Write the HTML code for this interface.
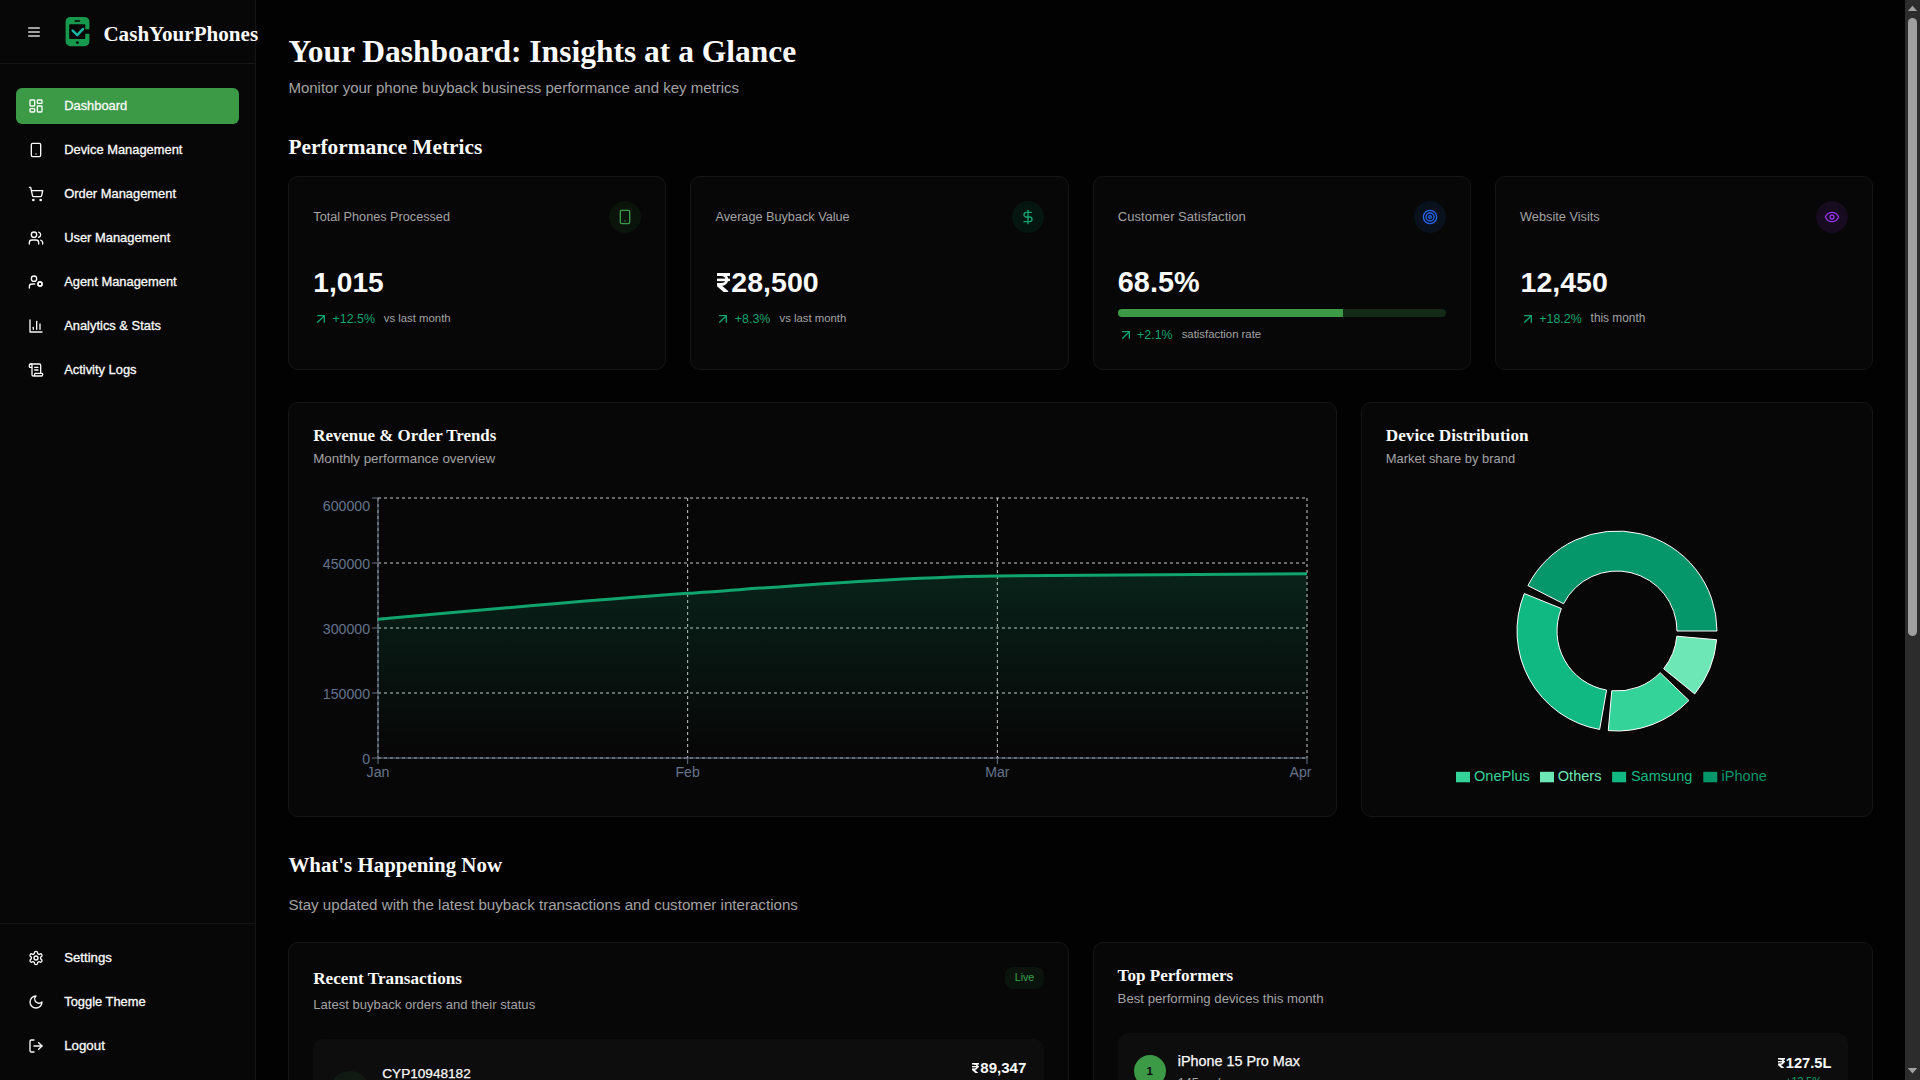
<!DOCTYPE html>
<html lang="en"><head><meta charset="utf-8"><title>CashYourPhones Dashboard</title>
<style>
html,body{margin:0;padding:0;}
body{width:1920px;height:1080px;overflow:hidden;background:#020202;position:relative;font-family:"Liberation Sans", sans-serif;}
.t{position:absolute;white-space:nowrap;line-height:1;}
.f-sans{font-family:"Liberation Sans", sans-serif;}
.f-serif{font-family:"Liberation Serif", serif;}
.b{position:absolute;box-sizing:border-box;}
.ic{position:absolute;display:block;}
.card{background:#070707;border:1px solid #151515;border-radius:10px;}
svg text{font-family:"Liberation Sans", sans-serif;}
</style></head><body>
<div class="b" style="left:0px;top:0px;width:256px;height:1080px;background:#070707;border-right:1px solid #151515;"></div>
<div class="b" style="left:0px;top:63px;width:255px;height:1px;background:#151515;"></div>
<div class="b" style="left:0px;top:923px;width:255px;height:1px;background:#151515;"></div>
<svg class="ic" style="left:26px;top:24px" width="16" height="16" viewBox="0 0 24 24" fill="none" stroke="#d4d4d4" stroke-width="2" stroke-linecap="round" stroke-linejoin="round"><line x1="4" x2="20" y1="12" y2="12"/><line x1="4" x2="20" y1="6" y2="6"/><line x1="4" x2="20" y1="18" y2="18"/></svg>
<svg class="ic" style="left:64px;top:16px" width="32" height="32" viewBox="64 16 32 32">
<path fill="#17994d" d="M70.5 16.9h14a4.9 4.9 0 0 1 4.9 4.9v7.4h-4.1v-4.1a.8.8 0 0 0-.8-.8h-14.5a.8.8 0 0 0-.8.8v13.2a.8.8 0 0 0 .8.8h14.5a.8.8 0 0 0 .8-.8v-4.5h4.1v7.6a4.9 4.9 0 0 1-4.9 4.9h-14a4.9 4.9 0 0 1-4.9-4.9v-19.6a4.9 4.9 0 0 1 4.9-4.9z"/>
<rect x="74.3" y="20.2" width="6.1" height="1.5" rx=".75" fill="#070707"/>
<circle cx="77.4" cy="42.6" r="1.4" fill="#070707"/>
<path d="M72.6 30.6l4.7 4.5 5.8-6.2" fill="none" stroke="#11b8a5" stroke-width="2.4" stroke-linecap="round" stroke-linejoin="round"/>
</svg>
<div class="t f-serif" style="left:103.4px;top:24px;font-size:21.1px;color:#fafafa;font-weight:bold;">CashYourPhones</div>
<div class="b" style="left:16px;top:88px;width:223px;height:36px;background:#3c9a47;border-radius:6px;"></div>
<svg class="ic" style="left:28px;top:98px" width="16" height="16" viewBox="0 0 24 24" fill="none" stroke="#fafafa" stroke-width="2" stroke-linecap="round" stroke-linejoin="round"><rect width="7" height="9" x="3" y="3" rx="1"/><rect width="7" height="5" x="14" y="3" rx="1"/><rect width="7" height="9" x="14" y="12" rx="1"/><rect width="7" height="5" x="3" y="16" rx="1"/></svg>
<div class="t f-sans" style="left:64.2px;top:100px;font-size:12.9px;color:#fafafa;-webkit-text-stroke:.3px #fafafa;">Dashboard</div>
<svg class="ic" style="left:28px;top:142px" width="16" height="16" viewBox="0 0 24 24" fill="none" stroke="#fafafa" stroke-width="2" stroke-linecap="round" stroke-linejoin="round"><rect width="14" height="20" x="5" y="2" rx="2" ry="2"/><path d="M12 18h.01"/></svg>
<div class="t f-sans" style="left:64.2px;top:144px;font-size:12.9px;color:#fafafa;-webkit-text-stroke:.3px #fafafa;">Device Management</div>
<svg class="ic" style="left:28px;top:186px" width="16" height="16" viewBox="0 0 24 24" fill="none" stroke="#fafafa" stroke-width="2" stroke-linecap="round" stroke-linejoin="round"><circle cx="8" cy="21" r="1"/><circle cx="19" cy="21" r="1"/><path d="M2.05 2.05h2l2.66 12.42a2 2 0 0 0 2 1.58h9.78a2 2 0 0 0 1.95-1.57l1.65-7.43H5.12"/></svg>
<div class="t f-sans" style="left:64.2px;top:188px;font-size:12.9px;color:#fafafa;-webkit-text-stroke:.3px #fafafa;">Order Management</div>
<svg class="ic" style="left:28px;top:230px" width="16" height="16" viewBox="0 0 24 24" fill="none" stroke="#fafafa" stroke-width="2" stroke-linecap="round" stroke-linejoin="round"><path d="M16 21v-2a4 4 0 0 0-4-4H6a4 4 0 0 0-4 4v2"/><circle cx="9" cy="7" r="4"/><path d="M22 21v-2a4 4 0 0 0-3-3.87"/><path d="M16 3.13a4 4 0 0 1 0 7.75"/></svg>
<div class="t f-sans" style="left:64.2px;top:232px;font-size:12.9px;color:#fafafa;-webkit-text-stroke:.3px #fafafa;">User Management</div>
<svg class="ic" style="left:28px;top:274px" width="16" height="16" viewBox="0 0 24 24" fill="none" stroke="#fafafa" stroke-width="2" stroke-linecap="round" stroke-linejoin="round"><circle cx="18" cy="15" r="3"/><circle cx="9" cy="7" r="4"/><path d="M10 15H6a4 4 0 0 0-4 4v2"/><path d="m21.7 16.4-.9-.3"/><path d="m15.2 13.9-.9-.3"/><path d="m16.6 18.7.3-.9"/><path d="m19.1 12.2.3-.9"/><path d="m19.6 18.7-.4-1"/><path d="m16.8 12.3-.4-1"/><path d="m14.3 16.6 1-.4"/><path d="m20.7 13.8 1-.4"/></svg>
<div class="t f-sans" style="left:64.2px;top:276px;font-size:12.9px;color:#fafafa;-webkit-text-stroke:.3px #fafafa;">Agent Management</div>
<svg class="ic" style="left:28px;top:318px" width="16" height="16" viewBox="0 0 24 24" fill="none" stroke="#fafafa" stroke-width="2" stroke-linecap="round" stroke-linejoin="round"><path d="M3 3v18h18"/><path d="M18 17V9"/><path d="M13 17V5"/><path d="M8 17v-3"/></svg>
<div class="t f-sans" style="left:64.2px;top:320px;font-size:12.9px;color:#fafafa;-webkit-text-stroke:.3px #fafafa;">Analytics &amp; Stats</div>
<svg class="ic" style="left:28px;top:362px" width="16" height="16" viewBox="0 0 24 24" fill="none" stroke="#fafafa" stroke-width="2" stroke-linecap="round" stroke-linejoin="round"><path d="M15 12h-5"/><path d="M15 8h-5"/><path d="M19 17V5a2 2 0 0 0-2-2H4"/><path d="M8 21h12a2 2 0 0 0 2-2v-1a1 1 0 0 0-1-1H11a1 1 0 0 0-1 1v1a2 2 0 1 1-4 0V5a2 2 0 1 0-4 0v2a1 1 0 0 0 1 1h3"/></svg>
<div class="t f-sans" style="left:64.2px;top:364px;font-size:12.9px;color:#fafafa;-webkit-text-stroke:.3px #fafafa;">Activity Logs</div>
<svg class="ic" style="left:28px;top:950px" width="16" height="16" viewBox="0 0 24 24" fill="none" stroke="#fafafa" stroke-width="2" stroke-linecap="round" stroke-linejoin="round"><path d="M12.22 2h-.44a2 2 0 0 0-2 2v.18a2 2 0 0 1-1 1.73l-.43.25a2 2 0 0 1-2 0l-.15-.08a2 2 0 0 0-2.73.73l-.22.38a2 2 0 0 0 .73 2.73l.15.1a2 2 0 0 1 1 1.72v.51a2 2 0 0 1-1 1.74l-.15.09a2 2 0 0 0-.73 2.73l.22.38a2 2 0 0 0 2.73.73l.15-.08a2 2 0 0 1 2 0l.43.25a2 2 0 0 1 1 1.73V20a2 2 0 0 0 2 2h.44a2 2 0 0 0 2-2v-.18a2 2 0 0 1 1-1.73l.43-.25a2 2 0 0 1 2 0l.15.08a2 2 0 0 0 2.73-.73l.22-.39a2 2 0 0 0-.73-2.73l-.15-.08a2 2 0 0 1-1-1.74v-.5a2 2 0 0 1 1-1.74l.15-.09a2 2 0 0 0 .73-2.73l-.22-.38a2 2 0 0 0-2.73-.73l-.15.08a2 2 0 0 1-2 0l-.43-.25a2 2 0 0 1-1-1.73V4a2 2 0 0 0-2-2z"/><circle cx="12" cy="12" r="3"/></svg>
<div class="t f-sans" style="left:64.2px;top:951px;font-size:13.2px;color:#fafafa;-webkit-text-stroke:.3px #fafafa;">Settings</div>
<svg class="ic" style="left:28px;top:994px" width="16" height="16" viewBox="0 0 24 24" fill="none" stroke="#fafafa" stroke-width="2" stroke-linecap="round" stroke-linejoin="round"><path d="M12 3a6 6 0 0 0 9 9 9 9 0 1 1-9-9Z"/></svg>
<div class="t f-sans" style="left:64.2px;top:996px;font-size:12.9px;color:#fafafa;-webkit-text-stroke:.3px #fafafa;">Toggle Theme</div>
<svg class="ic" style="left:28px;top:1038px" width="16" height="16" viewBox="0 0 24 24" fill="none" stroke="#fafafa" stroke-width="2" stroke-linecap="round" stroke-linejoin="round"><path d="M9 21H5a2 2 0 0 1-2-2V5a2 2 0 0 1 2-2h4"/><polyline points="16 17 21 12 16 7"/><line x1="21" x2="9" y1="12" y2="12"/></svg>
<div class="t f-sans" style="left:64.2px;top:1039px;font-size:13.3px;color:#fafafa;-webkit-text-stroke:.3px #fafafa;">Logout</div>
<div class="t f-serif" style="left:288.4px;top:36px;font-size:31.5px;color:#fafafa;font-weight:bold;">Your Dashboard: Insights at a Glance</div>
<div class="t f-sans" style="left:288.4px;top:80px;font-size:15.03px;color:#a3a3a3;">Monitor your phone buyback business performance and key metrics</div>
<div class="t f-serif" style="left:288.4px;top:137px;font-size:21.37px;color:#fafafa;font-weight:bold;">Performance Metrics</div>
<div class="b card" style="left:288px;top:176px;width:378.25px;height:194px"></div>
<div class="t f-sans" style="left:313.3px;top:211px;font-size:12.68px;color:#a3a3a3;">Total Phones Processed</div>
<div class="b" style="left:609.25px;top:201px;width:32px;height:32px;background:#0a140b;border-radius:50%;"></div>
<svg class="ic" style="left:617.25px;top:209px" width="16" height="16" viewBox="0 0 24 24" fill="none" stroke="#3c9a47" stroke-width="2" stroke-linecap="round" stroke-linejoin="round"><rect width="14" height="20" x="5" y="2" rx="2" ry="2"/><path d="M12 18h.01"/></svg>
<div class="t f-sans" style="left:313.3px;top:269px;font-size:28.15px;color:#fafafa;font-weight:bold;">1,015</div>
<svg class="ic" style="left:313px;top:311px" width="16" height="16" viewBox="0 0 24 24" fill="none" stroke="#10a56f" stroke-width="2" stroke-linecap="round" stroke-linejoin="round"><path d="M7 7h10v10"/><path d="M7 17 17 7"/></svg>
<div class="t f-sans" style="left:332.6px;top:313px;font-size:12.4px;color:#10a56f;">+12.5%</div>
<div class="t f-sans" style="left:383.8px;top:313px;font-size:11.35px;color:#a3a3a3;">vs last month</div>
<div class="b card" style="left:690.25px;top:176px;width:378.25px;height:194px"></div>
<div class="t f-sans" style="left:715.55px;top:211px;font-size:12.68px;color:#a3a3a3;">Average Buyback Value</div>
<div class="b" style="left:1011.5px;top:201px;width:32px;height:32px;background:#051610;border-radius:50%;"></div>
<svg class="ic" style="left:1019.5px;top:209px" width="16" height="16" viewBox="0 0 24 24" fill="none" stroke="#10a56f" stroke-width="2" stroke-linecap="round" stroke-linejoin="round"><line x1="12" x2="12" y1="2" y2="22"/><path d="M17 5H9.5a3.5 3.5 0 0 0 0 7h5a3.5 3.5 0 0 1 0 7H6"/></svg>
<svg class="ic" style="left:716.7px;top:272.7px" width="13.40" height="19.3" viewBox="0 0 134 193" fill="none" stroke="#fafafa"><path d="M0 15H134" stroke-width="30"/><path d="M0 69H134" stroke-width="26"/><path d="M40 15C118 15 118 115 40 115H0" stroke-width="28"/><path d="M10 116L102 196" stroke-width="38"/></svg>
<div class="t f-sans" style="left:731.35px;top:268px;font-size:28.55px;color:#fafafa;font-weight:bold;">28,500</div>
<svg class="ic" style="left:715.25px;top:311px" width="16" height="16" viewBox="0 0 24 24" fill="none" stroke="#10a56f" stroke-width="2" stroke-linecap="round" stroke-linejoin="round"><path d="M7 7h10v10"/><path d="M7 17 17 7"/></svg>
<div class="t f-sans" style="left:734.85px;top:313px;font-size:12.4px;color:#10a56f;">+8.3%</div>
<div class="t f-sans" style="left:779.5px;top:313px;font-size:11.35px;color:#a3a3a3;">vs last month</div>
<div class="b card" style="left:1092.5px;top:176px;width:378.25px;height:194px"></div>
<div class="t f-sans" style="left:1117.8px;top:210px;font-size:13.09px;color:#a3a3a3;">Customer Satisfaction</div>
<div class="b" style="left:1413.75px;top:201px;width:32px;height:32px;background:#09111d;border-radius:50%;"></div>
<svg class="ic" style="left:1421.75px;top:209px" width="16" height="16" viewBox="0 0 24 24" fill="none" stroke="#2563eb" stroke-width="2" stroke-linecap="round" stroke-linejoin="round"><circle cx="12" cy="12" r="10"/><circle cx="12" cy="12" r="6"/><circle cx="12" cy="12" r="2"/></svg>
<div class="t f-sans" style="left:1117.8px;top:268px;font-size:28.85px;color:#fafafa;font-weight:bold;">68.5%</div>
<div class="b" style="left:1117.5px;top:309px;width:328.25px;height:8px;background:#132a16;border-radius:4px;overflow:hidden;"></div>
<div class="b" style="left:1117.5px;top:309px;width:225px;height:8px;background:#3c9a47;border-radius:4px 0 0 4px;"></div>
<svg class="ic" style="left:1117.5px;top:327px" width="16" height="16" viewBox="0 0 24 24" fill="none" stroke="#10a56f" stroke-width="2" stroke-linecap="round" stroke-linejoin="round"><path d="M7 7h10v10"/><path d="M7 17 17 7"/></svg>
<div class="t f-sans" style="left:1137.1px;top:329px;font-size:12.4px;color:#10a56f;">+2.1%</div>
<div class="t f-sans" style="left:1181.7px;top:329px;font-size:11.35px;color:#a3a3a3;">satisfaction rate</div>
<div class="b card" style="left:1494.75px;top:176px;width:378.25px;height:194px"></div>
<div class="t f-sans" style="left:1520.05px;top:211px;font-size:12.75px;color:#a3a3a3;">Website Visits</div>
<div class="b" style="left:1816.0px;top:201px;width:32px;height:32px;background:#160b1f;border-radius:50%;"></div>
<svg class="ic" style="left:1824.0px;top:209px" width="16" height="16" viewBox="0 0 24 24" fill="none" stroke="#9333ea" stroke-width="2" stroke-linecap="round" stroke-linejoin="round"><path d="M2 12s3-7 10-7 10 7 10 7-3 7-10 7-10-7-10-7Z"/><circle cx="12" cy="12" r="3"/></svg>
<div class="t f-sans" style="left:1520.55px;top:268px;font-size:28.55px;color:#fafafa;font-weight:bold;">12,450</div>
<svg class="ic" style="left:1519.75px;top:311px" width="16" height="16" viewBox="0 0 24 24" fill="none" stroke="#10a56f" stroke-width="2" stroke-linecap="round" stroke-linejoin="round"><path d="M7 7h10v10"/><path d="M7 17 17 7"/></svg>
<div class="t f-sans" style="left:1539.35px;top:313px;font-size:12.4px;color:#10a56f;">+18.2%</div>
<div class="t f-sans" style="left:1590.6px;top:313px;font-size:11.86px;color:#a3a3a3;">this month</div>
<div class="b card" style="left:288px;top:402px;width:1049px;height:415px"></div>
<div class="t f-serif" style="left:313.2px;top:428px;font-size:16.9px;color:#fafafa;font-weight:bold;">Revenue &amp; Order Trends</div>
<div class="t f-sans" style="left:313.2px;top:452px;font-size:13.37px;color:#a3a3a3;">Monthly performance overview</div>
<svg class="ic" style="left:288px;top:402px" width="1049" height="415" viewBox="288 402 1049 415"><defs><linearGradient id="ag" x1="0" y1="0" x2="0" y2="1"><stop offset="5%" stop-color="#10b981" stop-opacity="0.145"/><stop offset="95%" stop-color="#10b981" stop-opacity="0"/></linearGradient></defs><line x1="378" y1="498" x2="1307" y2="498" stroke="#cccccc" stroke-dasharray="3 3"/><line x1="378" y1="563" x2="1307" y2="563" stroke="#cccccc" stroke-dasharray="3 3"/><line x1="378" y1="628" x2="1307" y2="628" stroke="#cccccc" stroke-dasharray="3 3"/><line x1="378" y1="693" x2="1307" y2="693" stroke="#cccccc" stroke-dasharray="3 3"/><line x1="378" y1="758" x2="1307" y2="758" stroke="#cccccc" stroke-dasharray="3 3"/><line x1="378.00" y1="498" x2="378.00" y2="758" stroke="#cccccc" stroke-dasharray="3 3"/><line x1="687.67" y1="498" x2="687.67" y2="758" stroke="#cccccc" stroke-dasharray="3 3"/><line x1="997.33" y1="498" x2="997.33" y2="758" stroke="#cccccc" stroke-dasharray="3 3"/><line x1="1307.00" y1="498" x2="1307.00" y2="758" stroke="#cccccc" stroke-dasharray="3 3"/><line x1="378" y1="758" x2="1307" y2="758" stroke="#64748b"/><line x1="378" y1="498" x2="378" y2="758" stroke="#64748b"/><line x1="378.00" y1="758" x2="378.00" y2="764" stroke="#64748b"/><line x1="687.67" y1="758" x2="687.67" y2="764" stroke="#64748b"/><line x1="997.33" y1="758" x2="997.33" y2="764" stroke="#64748b"/><line x1="1307.00" y1="758" x2="1307.00" y2="764" stroke="#64748b"/><line x1="372" y1="498" x2="378" y2="498" stroke="#64748b"/><line x1="372" y1="563" x2="378" y2="563" stroke="#64748b"/><line x1="372" y1="628" x2="378" y2="628" stroke="#64748b"/><line x1="372" y1="693" x2="378" y2="693" stroke="#64748b"/><line x1="372" y1="758" x2="378" y2="758" stroke="#64748b"/><text x="370" y="511.26" text-anchor="end" font-size="14.15" fill="#64748b">600000</text><text x="370" y="568.96" text-anchor="end" font-size="14.15" fill="#64748b">450000</text><text x="370" y="633.96" text-anchor="end" font-size="14.15" fill="#64748b">300000</text><text x="370" y="698.96" text-anchor="end" font-size="14.15" fill="#64748b">150000</text><text x="370" y="763.96" text-anchor="end" font-size="14.15" fill="#64748b">0</text><text x="378" y="777.2" text-anchor="middle" font-size="14.15" fill="#64748b">Jan</text><text x="687.67" y="777.2" text-anchor="middle" font-size="14.15" fill="#64748b">Feb</text><text x="997.33" y="777.2" text-anchor="middle" font-size="14.15" fill="#64748b">Mar</text><text x="1311.5" y="777.2" text-anchor="end" font-size="14.15" fill="#64748b">Apr</text><path d="M378.00,619.33C481.22,609.94,584.44,600.56,687.67,593.33C790.89,586.11,894.11,577.44,997.33,576.00C1100.56,574.56,1203.78,574.19,1307.00,573.83L1307,758L378,758Z" fill="url(#ag)"/><path d="M378.00,619.33C481.22,609.94,584.44,600.56,687.67,593.33C790.89,586.11,894.11,577.44,997.33,576.00C1100.56,574.56,1203.78,574.19,1307.00,573.83" fill="none" stroke="#10a56f" stroke-width="3"/></svg>
<div class="b card" style="left:1361px;top:402px;width:512px;height:415px"></div>
<div class="t f-serif" style="left:1385.8px;top:427px;font-size:17.2px;color:#fafafa;font-weight:bold;">Device Distribution</div>
<div class="t f-sans" style="left:1385.8px;top:453px;font-size:12.93px;color:#a3a3a3;">Market share by brand</div>
<svg class="ic" style="left:1361px;top:402px" width="512" height="415" viewBox="1361 402 512 415"><path d="M1717.00,631.00A100,100,0,0,0,1527.90,585.60L1563.54,603.76A60,60,0,0,1,1677.00,631.00Z" fill="#059669" stroke="#fff" stroke-width="1"/><path d="M1524.28,593.54A100,100,0,0,0,1599.64,729.48L1606.58,690.09A60,60,0,0,1,1561.37,608.52Z" fill="#10b981" stroke="#fff" stroke-width="1"/><path d="M1608.28,730.62A100,100,0,0,0,1688.93,700.47L1660.16,672.68A60,60,0,0,1,1611.77,690.77Z" fill="#34d399" stroke="#fff" stroke-width="1"/><path d="M1694.71,693.93A100,100,0,0,0,1716.62,639.72L1676.77,636.23A60,60,0,0,1,1663.63,668.76Z" fill="#6ee7b7" stroke="#fff" stroke-width="1"/><rect x="1456" y="771.8" width="14" height="10.5" fill="#34d399"/><text x="1474" y="781" font-size="14.55" fill="#34d399">OnePlus</text><rect x="1540" y="771.8" width="14" height="10.5" fill="#6ee7b7"/><text x="1557.8" y="781" font-size="14.55" fill="#6ee7b7">Others</text><rect x="1612.1" y="771.8" width="14" height="10.5" fill="#10b981"/><text x="1630.9" y="781" font-size="14.55" fill="#10b981">Samsung</text><rect x="1703.3" y="771.8" width="14" height="10.5" fill="#059669"/><text x="1721.6" y="781" font-size="14.55" fill="#059669">iPhone</text></svg>
<div class="t f-serif" style="left:288.4px;top:855px;font-size:20.9px;color:#fafafa;font-weight:bold;">What's Happening Now</div>
<div class="t f-sans" style="left:288.4px;top:897px;font-size:15.14px;color:#a3a3a3;">Stay updated with the latest buyback transactions and customer interactions</div>
<div class="b card" style="left:288px;top:942px;width:780.5px;height:300px"></div>
<div class="t f-serif" style="left:313.2px;top:970px;font-size:17.2px;color:#fafafa;font-weight:bold;">Recent Transactions</div>
<div class="t f-sans" style="left:313.2px;top:998px;font-size:13.1px;color:#a3a3a3;">Latest buyback orders and their status</div>
<div class="b" style="left:1005px;top:967px;width:39px;height:22px;background:#0a140c;border-radius:8px;"></div>
<div class="t f-sans" style="left:1014.7px;top:972px;font-size:10.7px;color:#3aa348;">Live</div>
<div class="b" style="left:313px;top:1039px;width:731px;height:120px;background:#0d0d0d;border-radius:10px;"></div>
<div class="b" style="left:330px;top:1071px;width:40px;height:40px;background:#111a12;border-radius:50%;"></div>
<div class="t f-sans" style="left:382.3px;top:1067px;font-size:13.6px;color:#fafafa;-webkit-text-stroke:.25px #fafafa;">CYP10948182</div>
<svg class="ic" style="left:971.5px;top:1062.7px" width="7.15" height="10.3" viewBox="0 0 134 193" fill="none" stroke="#fafafa"><path d="M0 15H134" stroke-width="30"/><path d="M0 69H134" stroke-width="26"/><path d="M40 15C118 15 118 115 40 115H0" stroke-width="28"/><path d="M10 116L102 196" stroke-width="38"/></svg>
<div class="t f-sans" style="left:980.3px;top:1060px;font-size:15.07px;color:#fafafa;font-weight:bold;">89,347</div>
<div class="b card" style="left:1093px;top:942px;width:780px;height:300px"></div>
<div class="t f-serif" style="left:1117.6px;top:967px;font-size:17.1px;color:#fafafa;font-weight:bold;">Top Performers</div>
<div class="t f-sans" style="left:1117.6px;top:992px;font-size:13.2px;color:#a3a3a3;">Best performing devices this month</div>
<div class="b" style="left:1118px;top:1033px;width:730px;height:120px;background:#0d0d0d;border-radius:10px;"></div>
<div class="b" style="left:1134px;top:1055px;width:32px;height:32px;background:#3c9a47;border-radius:50%;"></div>
<div class="t f-sans" style="left:1149.8px;transform:translateX(-50%);top:1065px;font-size:11.6px;color:#0a0a0a;font-weight:bold;">1</div>
<div class="t f-sans" style="left:1177.75px;top:1054px;font-size:14.37px;color:#fafafa;-webkit-text-stroke:.25px #fafafa;">iPhone 15 Pro Max</div>
<div class="t f-sans" style="left:1177.75px;top:1077px;font-size:12.7px;color:#a3a3a3;">145 orders</div>
<svg class="ic" style="left:1777.5px;top:1057.6px" width="7.22" height="10.4" viewBox="0 0 134 193" fill="none" stroke="#fafafa"><path d="M0 15H134" stroke-width="30"/><path d="M0 69H134" stroke-width="26"/><path d="M40 15C118 15 118 115 40 115H0" stroke-width="28"/><path d="M10 116L102 196" stroke-width="38"/></svg>
<div class="t f-sans" style="left:1785.8px;top:1056px;font-size:14.66px;color:#fafafa;font-weight:bold;">127.5L</div>
<div class="t f-sans" style="right:98.40000000000009px;top:1076px;font-size:10.63px;color:#10a56f;">+12.5%</div>
<div class="b" style="left:1905px;top:0px;width:15px;height:1080px;background:#2c2c2c;"></div>
<div class="b" style="left:1908px;top:18px;width:9px;height:618px;background:#9f9f9f;border-radius:4.5px;"></div>
<svg class="ic" style="left:1905px;top:0" width="15" height="1080" viewBox="1905 0 15 1080"><path d="M1912.5 5.8L1917.2 11.1H1907.8Z" fill="#9f9f9f"/><path d="M1912.5 1073.4L1917.2 1068H1907.8Z" fill="#9f9f9f"/></svg>
</body></html>
